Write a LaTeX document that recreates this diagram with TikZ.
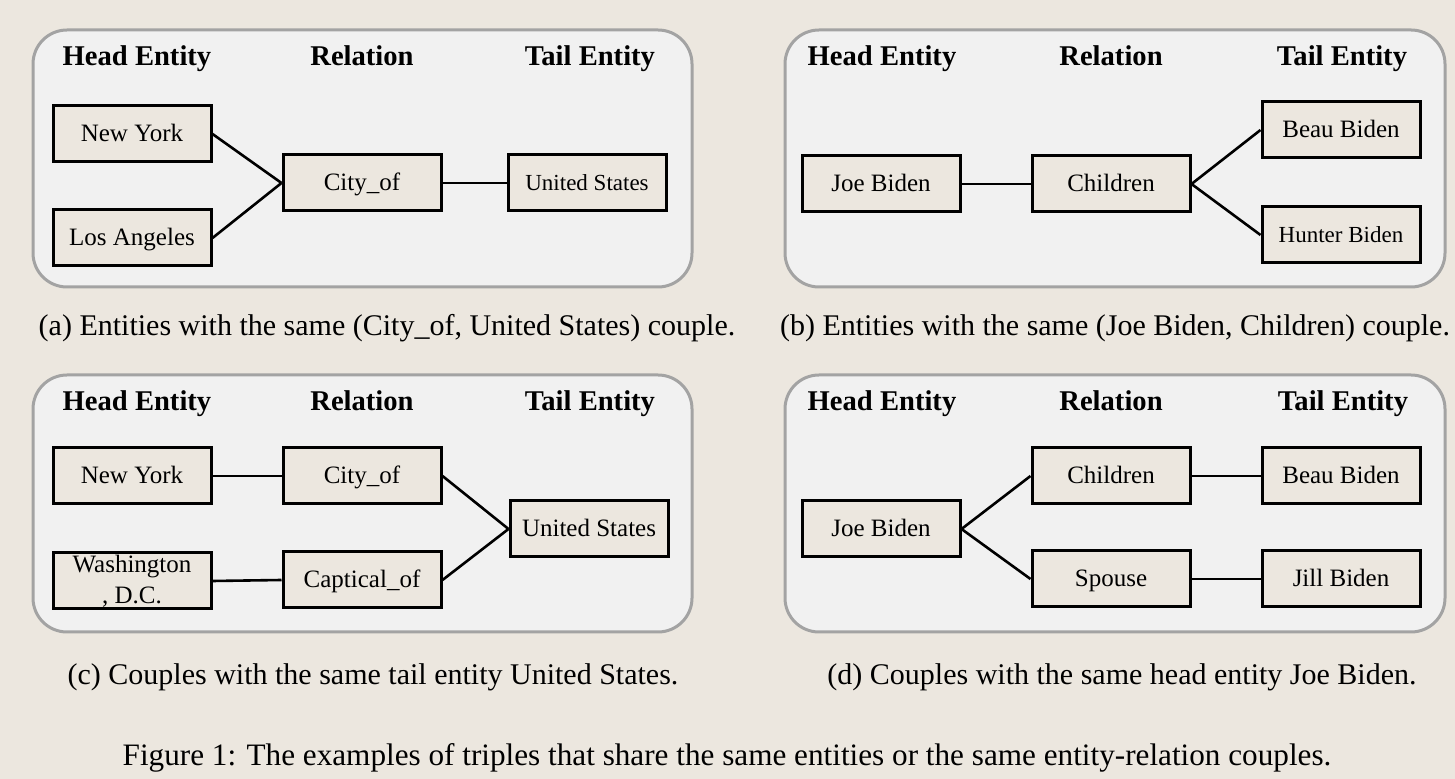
\documentclass[tikz,border=0pt]{standalone}
\usepackage{fontspec}
\setmainfont{Liberation Serif}
\definecolor{pagebg}{HTML}{ECE7DF}
\definecolor{panelfill}{HTML}{F1F1F1}
\definecolor{panelline}{HTML}{A3A3A3}
\definecolor{boxfill}{HTML}{ECE7DF}
\tikzset{
  panel/.style={draw=panelline, line width=1.5pt, fill=panelfill, rounded corners=17pt},
  entwrap/.style={draw=black, line width=1.5pt, fill=boxfill, minimum width=79pt, minimum height=28pt, inner sep=0pt, align=center, font=\fontsize{12.5}{15.5}\selectfont},
  ent/.style={entwrap, text height=10pt, text depth=2pt},
  entsmall/.style={ent, font=\fontsize{11.5}{14}\selectfont},
  colhead/.style={anchor=base, font=\fontsize{14.3}{17}\selectfont\bfseries},
  subcaption/.style={anchor=base, font=\fontsize{15}{18}\selectfont},
  figcaption/.style={anchor=base, font=\fontsize{15.6}{18}\selectfont},
  link/.style={black, line width=1.3pt}
}
\begin{document}
\begin{tikzpicture}[x=0.5pt,y=-0.5pt]
\fill [pagebg] (0,0) rectangle (1455,779);
\useasboundingbox (0,0) rectangle (1455,779);

\draw [panel] (33,30) rectangle (692,287);
\node [colhead] (hA) at (137,66) {Head Entity};
\node [colhead] (rA) at (362,66) {Relation};
\node [colhead] (tA) at (590,66) {Tail Entity};
\node [ent] (nyA) at (132,134) {New York};
\node [ent] (laA) at (132,238) {Los Angeles};
\node [ent] (cityA) at (362,183) {City\_of};
\node [entsmall] (usA) at (587,183) {United States};
\draw [link] (nyA.east) -- (cityA.west);
\draw [link] (laA.east) -- (cityA.west);
\draw [link] (cityA.east) -- (usA.west);
\node [subcaption] (capA) at (387,336) {(a) Entities with the same (City\_of, United States) couple.};

\draw [panel] (785,30) rectangle (1445,287);
\node [colhead] (hB) at (882,66) {Head Entity};
\node [colhead] (rB) at (1111,66) {Relation};
\node [colhead] (tB) at (1342,66) {Tail Entity};
\node [ent] (joeB) at (881,184) {Joe Biden};
\node [ent] (childB) at (1111,184) {Children};
\node [ent] (beauB) at (1341,130) {Beau Biden};
\node [entsmall] (hunterB) at (1341,235) {Hunter Biden};
\draw [link] (joeB.east) -- (childB.west);
\draw [link] (childB.east) -- (beauB.west);
\draw [link] (childB.east) -- (hunterB.west);
\node [subcaption] (capB) at (1115,336) {(b) Entities with the same (Joe Biden, Children) couple.};

\draw [panel] (33,375) rectangle (692,632);
\node [colhead] (hC) at (137,411) {Head Entity};
\node [colhead] (rC) at (362,411) {Relation};
\node [colhead] (tC) at (590,411) {Tail Entity};
\node [ent] (nyC) at (132,476) {New York};
\node [entwrap] (dcC) at (132,581) {Washington\\, D.C.};
\node [ent] (cityC) at (362,476) {City\_of};
\node [ent] (capitalC) at (362,580) {Captical\_of};
\node [ent] (usC) at (589,529) {United States};
\draw [link] (nyC.east) -- (cityC.west);
\draw [link] (dcC.east) -- (capitalC.west);
\draw [link] (cityC.east) -- (usC.west);
\draw [link] (capitalC.east) -- (usC.west);
\node [subcaption] (capC) at (373,684) {(c) Couples with the same tail entity United States.};

\draw [panel] (785,375) rectangle (1445,632);
\node [colhead] (hD) at (882,411) {Head Entity};
\node [colhead] (rD) at (1111,411) {Relation};
\node [colhead] (tD) at (1343,411) {Tail Entity};
\node [ent] (joeD) at (881,529) {Joe Biden};
\node [ent] (childD) at (1111,476) {Children};
\node [ent] (spouseD) at (1111,579) {Spouse};
\node [ent] (beauD) at (1341,476) {Beau Biden};
\node [ent] (jillD) at (1341,579) {Jill Biden};
\draw [link] (joeD.east) -- (childD.west);
\draw [link] (joeD.east) -- (spouseD.west);
\draw [link] (childD.east) -- (beauD.west);
\draw [link] (spouseD.east) -- (jillD.west);
\node [subcaption] (capD) at (1122,684) {(d) Couples with the same head entity Joe Biden.};

\node [figcaption] (fig) at (727,765) {Figure 1: The examples of triples that share the same entities or the same entity-relation couples.};
\end{tikzpicture}
\end{document}
